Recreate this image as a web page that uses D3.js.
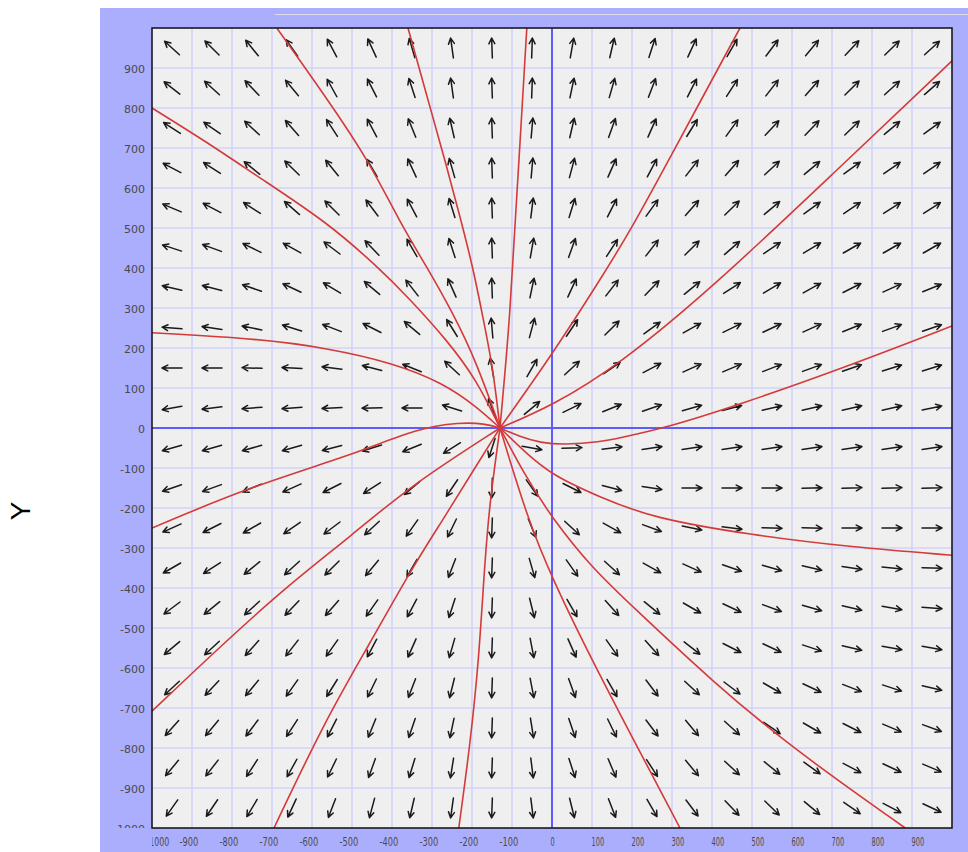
<!DOCTYPE html>
<html>
<head>
<meta charset="utf-8">
<script src="https://cdn.jsdelivr.net/npm/d3@7"></script>
<style>
  html, body { margin: 0; padding: 0; background: #ffffff; }
  svg { display: block; }
</style>
</head>
<body>
<script>
// ---------------- data ----------------
const xTicks = [-1000,-900,-800,-700,-600,-500,-400,-300,-200,-100,0,100,200,300,400,500,600,700,800,900];
const yTicks = [-1000,-900,-800,-700,-600,-500,-400,-300,-200,-100,0,100,200,300,400,500,600,700,800,900];
const arrowXs = [-950,-850,-750,-650,-550,-450,-350,-250,-150,-50,50,150,250,350,450,550,650,750,850,950];
const arrowYs = [950,850,750,650,550,450,350,250,150,50,-50,-150,-250,-350,-450,-550,-650,-750,-850,-950];
// arrow direction (degrees, counter-clockwise from +x), one row per arrowYs entry
const angles = [
  [138,135,129,125,118,115,106,98,92,88, 80,77,72,65,60,53,50,47,44,42],
  [142,138,134,130,119,117,108,98,92,88, 78,74,69,63,57,52,49,45,42,41],
  [147,145,137,131,123,118,112,103,92,85, 77,70,66,58,54,47,46,44,40,36],
  [152,147,141,136,129,121,115,106,92,85, 75,66,62,52,49,43,40,36,35,35],
  [157,152,147,139,135,127,118,107,92,83, 73,63,54,49,44,40,36,34,33,33],
  [162,160,154,151,143,134,120,108,92,80, 70,57,52,45,41,34,31,30,30,30],
  [167,165,161,155,149,140,128,114,92,78, 65,52,46,39,33,31,29,27,24,22],
  [175,172,169,163,159,153,140,122,95,75, 56,45,36,29,26,25,24,22,20,19],
  [180,180,178,177,173,165,158,137,100,60, 43,35,28,24,23,21,20,19,17,17],
  [190,187,185,184,183,181,180,163,110,40, 26,22,19,16,15,13,13,13,13,12],
  [196,196,196,196,195,197,202,212,252,350, 2,7,8,8,8,8,8,8,8,8],
  [199,200,203,204,207,213,220,236,268,305, 333,345,351,0,0,0,1,2,2,2],
  [204,207,210,215,217,223,235,244,268,292, 317,331,340,348,353,358,358,0,0,0],
  [210,213,219,222,225,230,240,249,268,286, 305,318,331,336,341,344,347,352,354,358],
  [217,219,222,226,229,235,242,252,268,284, 300,312,321,330,335,340,344,347,350,356],
  [220,223,228,232,235,242,246,254,268,281, 294,305,312,322,333,335,342,347,350,350],
  [223,227,230,235,238,244,249,256,268,281, 290,300,307,317,323,330,335,339,342,347],
  [228,230,233,237,243,248,251,258,268,279, 289,296,307,310,318,325,330,333,337,340],
  [230,232,237,241,244,250,253,261,268,277, 288,293,303,310,317,321,324,332,335,337],
  [235,236,239,245,249,255,257,262,268,277, 284,291,300,307,314,316,320,325,332,335]
];
// trajectories (solution curves), read point by point
const curveA = [[-688,1000],[-560,820],[-455,663],[-380,513],[-313,403],[-248,288],[-188,163],[-130,0]];
const curveB = [[-1000,800],[-868,718],[-730,625],[-563,515],[-438,405],[-355,322],[-263,220],[-188,120],[-130,0]];
const curveC = [[-360,1000],[-310,820],[-263,653],[-230,528],[-198,403],[-173,278],[-148,153],[-130,0]];
const curveD = [[-63,1000],[-78,745],[-93,500],[-105,288],[-118,133],[-130,0]];
const curveE = [[-1000,238],[-730,223],[-563,200],[-398,163],[-273,113],[-188,53],[-130,0]];
const curveF = [[-130,0],[0,183],[120,370],[200,500],[308,700],[470,1000]];
const curveG = [[-130,0],[0,55],[168,158],[400,350],[700,633],[1000,918]];
const curveH = [[-130,0],[-80,-22],[-30,-37],[33,-42],[120,-35],[168,-25],[283,0],[468,58],[750,158],[1000,255]];
const curveI = [[-130,0],[-68,-60],[0,-118],[120,-173],[250,-225],[500,-268],[750,-298],[1000,-318]];
const curveJ = [[-130,0],[-68,-118],[0,-225],[100,-350],[200,-445],[400,-633],[600,-800],[883,-1000]];
const curveK = [[-130,0],[-60,-230],[0,-375],[100,-583],[320,-1000]];
const curveL = [[-130,0],[-155,-180],[-168,-333],[-183,-583],[-205,-793],[-233,-1000]];
const curveM = [[-130,0],[-193,-100],[-273,-230],[-350,-350],[-458,-543],[-568,-733],[-695,-1000]];
const curveN = [[-130,0],[-355,-145],[-500,-268],[-668,-400],[-833,-550],[-1000,-708]];
const curveO = [[-1000,-250],[-750,-145],[-500,-68],[-335,0],[-230,14],[-168,11],[-130,0]];
const curves = [curveA,curveB,curveC,curveD,curveE,curveF,curveG,curveH,curveI,curveJ,curveK,curveL,curveM,curveN,curveO];
const axisTitle = "Y";

// ---------------- drawing ----------------
const W = 968, H = 852;
const PL = 152, PR = 952, PT = 28, PB = 828;

const svg = d3.select("body").append("svg").attr("width", W).attr("height", H);
const defs = svg.append("defs");
defs.append("clipPath").attr("id","plotClip").append("rect")
  .attr("x", PL).attr("y", PT).attr("width", PR-PL).attr("height", PB-PT);
defs.append("clipPath").attr("id","xlabClip").append("rect")
  .attr("x", PL).attr("y", PB).attr("width", W-PL).attr("height", H-PB);
defs.append("clipPath").attr("id","ylabClip").append("rect")
  .attr("x", 100).attr("y", PT).attr("width", PL-100).attr("height", PB-PT);

// outer panel
svg.append("rect").attr("x",100).attr("y",8).attr("width",W-100).attr("height",H-8).attr("fill","#abaefd");
svg.append("line").attr("x1",275).attr("x2",W).attr("y1",13.5).attr("y2",13.5).attr("stroke","#b4b4bc").attr("stroke-width",1);
svg.append("line").attr("x1",275).attr("x2",W).attr("y1",14.5).attr("y2",14.5).attr("stroke","#dcdce6").attr("stroke-width",1);

const x = d3.scaleLinear().domain([-1000,1000]).range([PL,PR]);
const y = d3.scaleLinear().domain([-1000,1000]).range([PB,PT]);

// plot background
svg.append("rect").attr("x",PL).attr("y",PT).attr("width",PR-PL).attr("height",PB-PT).attr("fill","#efefef");

const plot = svg.append("g").attr("clip-path","url(#plotClip)");

// grid
const gridVals = d3.range(-1000, 1001, 100);
plot.append("g").selectAll("line").data(gridVals).join("line")
  .attr("x1", d => x(d)).attr("x2", d => x(d)).attr("y1", PT).attr("y2", PB)
  .attr("stroke","#d2d2fb").attr("stroke-width",1.6);
plot.append("g").selectAll("line").data(gridVals).join("line")
  .attr("y1", d => y(d)).attr("y2", d => y(d)).attr("x1", PL).attr("x2", PR)
  .attr("stroke","#d2d2fb").attr("stroke-width",1.6);

// zero axes
plot.append("line").attr("x1",x(0)).attr("x2",x(0)).attr("y1",PT).attr("y2",PB)
  .attr("stroke","#5c5cff").attr("stroke-width",2);
plot.append("line").attr("y1",y(0)).attr("y2",y(0)).attr("x1",PL).attr("x2",PR)
  .attr("stroke","#5c5cff").attr("stroke-width",2);

// arrows
const arrowData = [];
arrowYs.forEach((yv, i) => arrowXs.forEach((xv, j) => arrowData.push({xv, yv, a: angles[i][j]})));
const L = 20, HL = 6.5, HA = 27 * Math.PI / 180;
function arrowPath(d) {
  const cx = x(d.xv), cy = y(d.yv);
  const t = d.a * Math.PI / 180;
  const ux = Math.cos(t), uy = -Math.sin(t);
  const hx = cx + ux * L / 2, hy = cy + uy * L / 2;
  const tx = cx - ux * L / 2, ty = cy - uy * L / 2;
  const back = Math.atan2(-uy, -ux);
  const b1x = hx + HL * Math.cos(back + HA), b1y = hy + HL * Math.sin(back + HA);
  const b2x = hx + HL * Math.cos(back - HA), b2y = hy + HL * Math.sin(back - HA);
  return `M${tx},${ty}L${hx},${hy}M${b1x},${b1y}L${hx},${hy}L${b2x},${b2y}`;
}
plot.append("g").selectAll("path").data(arrowData).join("path")
  .attr("d", arrowPath).attr("fill","none").attr("stroke","#1a1a1a")
  .attr("stroke-width",1.5).attr("stroke-linecap","round").attr("stroke-linejoin","round");

// trajectories
const line = d3.line().x(d => x(d[0])).y(d => y(d[1])).curve(d3.curveBasis);
plot.append("g").selectAll("path").data(curves).join("path")
  .attr("d", line).attr("fill","none").attr("stroke","#d43a3a").attr("stroke-width",1.6);

// border
svg.append("rect").attr("x",PL).attr("y",PT).attr("width",PR-PL).attr("height",PB-PT)
  .attr("fill","none").attr("stroke","#111").attr("stroke-width",1.5);

// y axis labels (clip on an untransformed wrapper)
const yWrap = svg.append("g").attr("clip-path","url(#ylabClip)");
const yAxis = yWrap.append("g").attr("transform",`translate(${PL},0)`)
  .call(d3.axisLeft(y).tickValues(yTicks).tickSize(0).tickPadding(7).tickFormat(d => String(d)));
yAxis.select(".domain").remove();
yAxis.selectAll("text").attr("font-family","'DejaVu Sans', Verdana, sans-serif").attr("font-size",11)
  .attr("fill","#4a4a4a").attr("dy","0.45em");

// x axis labels (horizontally condensed)
const xWrap = svg.append("g").attr("clip-path","url(#xlabClip)");
const xAxis = xWrap.append("g").attr("transform",`translate(0,${PB})`)
  .call(d3.axisBottom(x).tickValues(xTicks).tickSize(0).tickPadding(10).tickFormat(d => String(d)));
xAxis.select(".domain").remove();
xAxis.selectAll("text")
  .attr("font-family","'DejaVu Sans', Verdana, sans-serif").attr("font-size",11.5).attr("fill","#4a4a4a")
  .attr("text-anchor","start")
  .attr("x", d => d < -900 ? -6 : d < 0 ? -13 : d === 0 ? -2 : -1)
  .attr("textLength", d => { const s = String(Math.abs(d)); return s.length * 4.2 + (d < 0 ? 6 : 0); })
  .attr("lengthAdjust","spacingAndGlyphs");

// axis title
svg.append("text").attr("transform","translate(30,511) rotate(-90)")
  .attr("text-anchor","middle").attr("font-family","'Liberation Sans', Arial, sans-serif")
  .attr("font-size",28).attr("fill","#000").text(axisTitle);
</script>
</body>
</html>
